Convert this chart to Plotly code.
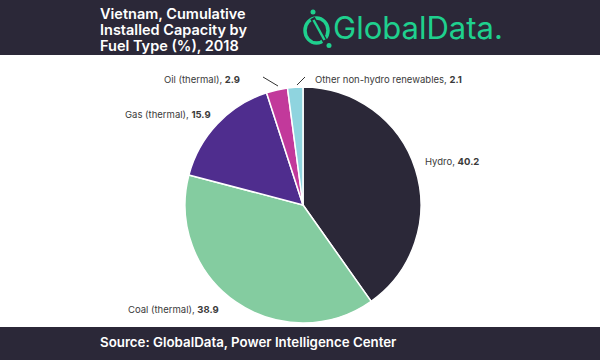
import plotly.graph_objects as go

labels = ["Hydro", "Coal (thermal)", "Gas (thermal)", "Oil (thermal)", "Other non-hydro renewables"]
values = [40.2, 38.9, 15.9, 2.9, 2.1]
colors = ["#2b2838", "#84cca0", "#4f2d8e", "#c2399b", "#8fd4df"]

title_lines = ["Vietnam, Cumulative", "Installed Capacity by", "Fuel Type (%), 2018"]
source_text = "Source: GlobalData, Power Intelligence Center"

W, H = 600, 360
def px(x): return x / W
def py(y): return 1 - y / H

fig = go.Figure()
fig.add_trace(go.Pie(
    labels=labels, values=values, sort=False, direction="clockwise", rotation=0,
    marker=dict(colors=colors, line=dict(color="white", width=1.5)),
    textinfo="none", hoverinfo="label+value", showlegend=False,
    domain=dict(x=[px(185), px(421)], y=[py(323), py(87)]),
))

dark = "#2b2838"
green = "#1fd08e"
shapes = [
    dict(type="rect", xref="paper", yref="paper", x0=0, x1=1, y0=py(55), y1=1, fillcolor=dark, line=dict(width=0), layer="below"),
    dict(type="rect", xref="paper", yref="paper", x0=0, x1=1, y0=0, y1=py(327), fillcolor=dark, line=dict(width=0), layer="below"),
    # logo icon
    dict(type="circle", xref="paper", yref="paper", x0=px(305), x1=px(328), y0=py(43), y1=py(18), line=dict(color=green, width=3.5)),
    dict(type="line", xref="paper", yref="paper", x0=px(312.5), x1=px(325.5), y0=py(18), y1=py(42), line=dict(color=dark, width=5)),
    dict(type="line", xref="paper", yref="paper", x0=px(313.5), x1=px(324.5), y0=py(20), y1=py(40), line=dict(color=green, width=2.5)),
    dict(type="circle", xref="paper", yref="paper", x0=px(310.5), x1=px(315.5), y0=py(14.5), y1=py(9.5), fillcolor=green, line=dict(width=0)),
    dict(type="circle", xref="paper", yref="paper", x0=px(326.5), x1=px(331.5), y0=py(48), y1=py(43), fillcolor=green, line=dict(width=0)),
    # leader lines
    dict(type="line", xref="paper", yref="paper", x0=px(263), x1=px(278), y0=py(77), y1=py(86), line=dict(color="#333", width=1)),
    dict(type="line", xref="paper", yref="paper", x0=px(305), x1=px(297), y0=py(77), y1=py(85), line=dict(color="#333", width=1)),
]

lab_font = dict(family="Inter, Roboto, sans-serif", size=9.5, color="#3a3a3a")
ann = []
def label(i, x, y, anchor):
    ann.append(dict(xref="paper", yref="paper", x=px(x), y=py(y), xanchor=anchor, yanchor="middle",
                    text=f"{labels[i]}, <b>{values[i]}</b>", showarrow=False, font=lab_font))
label(0, 423, 161, "left")
label(1, 221, 309, "right")
label(2, 213, 115, "right")
label(3, 242, 79, "right")
label(4, 313, 79, "left")

for k, t in enumerate(title_lines):
    ann.append(dict(xref="paper", yref="paper", x=px(98), y=py(14 + 15.5 * k), xanchor="left", yanchor="middle",
                    text=t, showarrow=False,
                    font=dict(family="Inter, Roboto, sans-serif", size=14.5, weight=600, color="white")))
ann.append(dict(xref="paper", yref="paper", x=px(331), y=py(28), xanchor="left", yanchor="middle",
                text="GlobalData.", showarrow=False,
                font=dict(family="Inter, Roboto, sans-serif", size=31, color=green)))
ann.append(dict(xref="paper", yref="paper", x=px(98), y=py(342), xanchor="left", yanchor="middle",
                text=source_text, showarrow=False,
                font=dict(family="Inter, Roboto, sans-serif", size=13.3, weight=600, color="white")))

fig.update_layout(width=W, height=H, margin=dict(l=0, r=0, t=0, b=0),
                  paper_bgcolor="white", plot_bgcolor="white",
                  shapes=shapes, annotations=ann)
fig.write_html("out.html", config={"displayModeBar": False},
               post_script="document.body.style.margin='0';document.body.style.overflow='hidden';")
